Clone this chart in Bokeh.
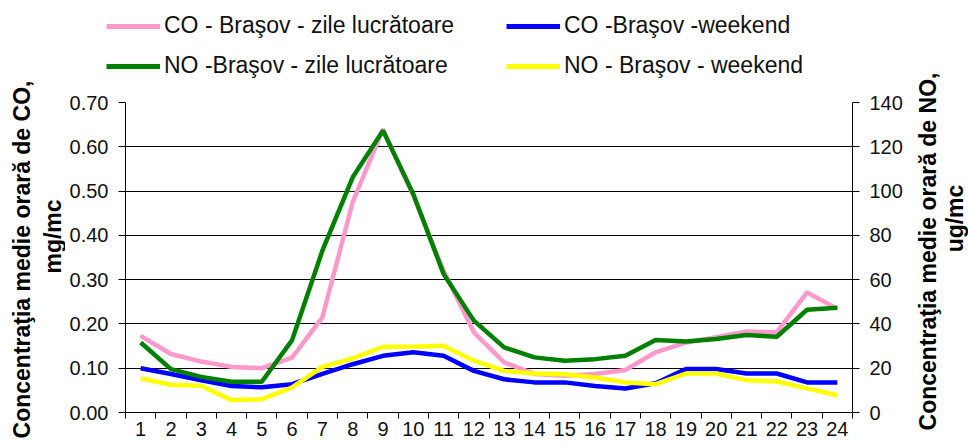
import math
from bokeh.plotting import figure
from bokeh.layouts import column, row
from bokeh.models import (Range1d, LinearAxis, FixedTicker, Legend, LegendItem,
                          NumeralTickFormatter)
from bokeh.core.properties import value
from bokeh.embed import file_html
from bokeh.resources import INLINE

hours = list(range(1, 25))

co_work = [0.173, 0.132, 0.115, 0.103, 0.100, 0.124, 0.215, 0.475, 0.640, 0.490, 0.320, 0.181,
           0.113, 0.087, 0.083, 0.087, 0.096, 0.136, 0.158, 0.170, 0.183, 0.181, 0.271, 0.234]
co_wknd = [0.100, 0.087, 0.073, 0.060, 0.057, 0.064, 0.087, 0.109, 0.128, 0.136, 0.128, 0.094,
           0.075, 0.068, 0.068, 0.060, 0.054, 0.066, 0.098, 0.098, 0.088, 0.088, 0.068, 0.068]
no_work = [31.6, 19.6, 16.1, 13.9, 13.9, 32.7, 73.1, 106.2, 127.3, 98.7, 62.6, 41.5,
           29.4, 24.9, 23.4, 24.1, 25.6, 32.7, 32.1, 33.2, 35.0, 34.2, 46.4, 47.3]
no_wknd = [15.5, 12.5, 12.1, 5.6, 6.0, 11.3, 20.6, 24.4, 29.7, 29.7, 30.1, 23.4,
           18.8, 17.6, 17.3, 15.8, 13.6, 12.8, 17.6, 17.6, 14.6, 14.0, 10.9, 7.8]

left_ticks = [0.0, 0.1, 0.2, 0.3, 0.4, 0.5, 0.6, 0.7]
right_ticks = [0, 20, 40, 60, 80, 100, 120, 140]

names = ["CO - Braşov - zile lucrătoare", "CO -Braşov -weekend",
         "NO -Braşov - zile lucrătoare", "NO - Braşov - weekend"]
colors = ["#FF99CC", "#0000FF", "#008000", "#FFFF00"]
left_title = ["Concentraţia medie orară de CO,", "mg/mc"]
right_title = ["Concentraţia medie orară de NO,", "ug/mc"]

FONT = "Liberation Sans"
TOTAL_W, TOTAL_H = 968, 445
LEFT_W = 65
RIGHT_W = 63
MAIN_W = TOTAL_W - LEFT_W - RIGHT_W
LEG_H = 84
MAIN_H = TOTAL_H - LEG_H


def blank(width, height):
    f = figure(width=width, height=height, output_backend="svg", toolbar_location=None,
               x_range=Range1d(0, width), y_range=Range1d(0, height),
               x_axis_type=None, y_axis_type=None, min_border=0, frame_align=False)
    f.outline_line_color = None
    f.grid.visible = False
    return f


# ---------------- main chart ----------------
p = figure(width=MAIN_W, height=MAIN_H, output_backend="svg", toolbar_location=None,
           x_range=Range1d(0.5, 24.5), y_range=Range1d(0, 0.7),
           min_border_left=60, min_border_right=53, min_border_top=18,
           min_border_bottom=33)
p.extra_y_ranges = {"no": Range1d(0, 140)}
p.outline_line_color = None

xa = p.xaxis[0]
xa.ticker = FixedTicker(ticks=hours, minor_ticks=[h + 0.5 for h in range(0, 25)])
xa.major_tick_line_color = None
xa.minor_tick_line_color = "black"
xa.minor_tick_out = 6
xa.minor_tick_in = 0
xa.axis_line_color = "black"
xa.major_label_text_font = FONT
xa.major_label_text_font_size = "20px"
xa.major_label_text_color = "#111111"
xa.major_label_standoff = 3

ya = p.yaxis[0]
ya.ticker = FixedTicker(ticks=left_ticks)
ya.formatter = NumeralTickFormatter(format="0.00")
ya.minor_tick_line_color = None
ya.major_tick_out = 7
ya.major_tick_in = 0
ya.major_tick_line_color = "black"
ya.axis_line_color = "black"
ya.major_label_text_font = FONT
ya.major_label_text_font_size = "20px"
ya.major_label_text_color = "#111111"
ya.major_label_standoff = 10

ra = LinearAxis(y_range_name="no", ticker=FixedTicker(ticks=right_ticks))
ra.minor_tick_line_color = None
ra.major_tick_out = 7
ra.major_tick_in = 0
ra.major_tick_line_color = "black"
ra.axis_line_color = "black"
ra.major_label_text_font = FONT
ra.major_label_text_font_size = "20px"
ra.major_label_text_color = "#111111"
ra.major_label_standoff = 10
p.add_layout(ra, "right")

p.xgrid.grid_line_color = None
p.ygrid.grid_line_color = "black"
p.ygrid.grid_line_width = 1
p.ygrid.ticker = FixedTicker(ticks=left_ticks)

lw = 4.5
p.line(hours, co_work, line_color=colors[0], line_width=lw)
p.line(hours, co_wknd, line_color=colors[1], line_width=lw)
p.line(hours, no_work, line_color=colors[2], line_width=lw, y_range_name="no")
p.line(hours, no_wknd, line_color=colors[3], line_width=lw, y_range_name="no")

# ---------------- axis titles (rotated, reading upward) ----------------
title_kw = dict(angle=math.pi / 2, text_align="center", text_baseline="middle",
                text_font=value(FONT), text_font_style="bold", text_font_size="23px",
                text_color="black")
pt_l = blank(LEFT_W, TOTAL_H)
pt_l.text(x=[21, 52], y=[186, 209], text=left_title, **title_kw)

pt_r = blank(RIGHT_W, TOTAL_H)
pt_r.text(x=[22, 49], y=[194, 227], text=right_title, **title_kw)

# ---------------- legend ----------------
pl = blank(MAIN_W, LEG_H)
leg_r = [pl.line([MAIN_W + 50, MAIN_W + 60], [LEG_H + 50, LEG_H + 60],
                 line_color=c, line_width=5) for c in colors]
legend = Legend(items=[LegendItem(label=n, renderers=[r]) for n, r in zip(names, leg_r)],
                location=(41, 5), orientation="horizontal", ncols=2)
legend.padding = 0
legend.margin = 0
legend.border_line_color = None
legend.background_fill_alpha = 0
legend.glyph_width = 54
legend.glyph_height = 20
legend.label_height = 20
legend.label_width = 329
legend.label_standoff = 4
legend.spacing = 13
legend.label_text_font = FONT
legend.label_text_font_size = "23px"
legend.label_text_color = "#111111"
pl.add_layout(legend, "center")

layout = row(pt_l, column(pl, p), pt_r)
open("out.html", "w").write(file_html(layout, INLINE))
